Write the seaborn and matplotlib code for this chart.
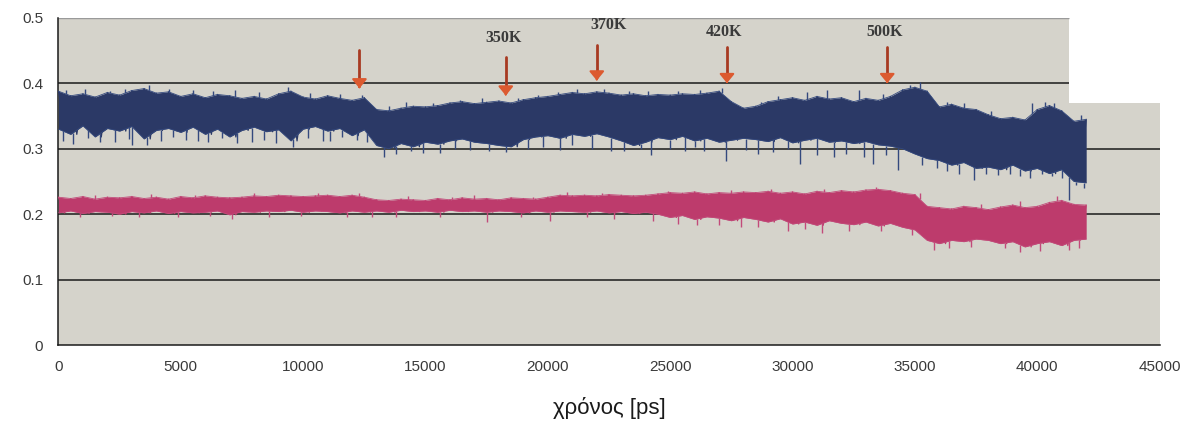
import numpy as np
import matplotlib
matplotlib.use("Agg")
import matplotlib.pyplot as plt
import seaborn as sns

# time axis of the read-off envelopes (ps), one value every 500 ps
t = np.arange(0, 42001, 500)

# dark blue trace: top / bottom of the dense band
navy_hi = [.388, .381, .384, .379, .386, .382, .389, .392, .385, .387,
           .380, .384, .378, .383, .381, .377, .380, .376, .384, .388,
           .379, .376, .381, .377, .374, .378, .360, .358, .362, .365,
           .364, .366, .370, .372, .369, .371, .373, .370, .375, .378,
           .380, .383, .386, .384, .387, .385, .382, .384, .381, .383,
           .382, .384, .383, .385, .388, .372, .362, .365, .372, .375,
           .378, .374, .380, .376, .378, .372, .377, .374, .380, .390,
           .394, .388, .364, .368, .362, .360, .352, .346, .348, .344,
           .360, .366, .358, .342, .345]
navy_lo = [.330, .322, .335, .318, .331, .327, .334, .315, .328, .331,
           .325, .333, .322, .330, .318, .328, .333, .326, .329, .312,
           .330, .334, .327, .331, .320, .329, .305, .300, .308, .303,
           .310, .307, .312, .315, .310, .308, .305, .303, .314, .318,
           .320, .316, .322, .319, .323, .318, .312, .305, .310, .317,
           .314, .319, .312, .316, .310, .313, .316, .314, .311, .317,
           .309, .313, .316, .310, .312, .308, .311, .306, .304, .300,
           .292, .285, .282, .275, .279, .270, .272, .268, .275, .266,
           .270, .262, .268, .250, .248]

# crimson trace
pink_hi = [.226, .224, .227, .223, .226, .225, .227, .224, .226, .223,
           .227, .225, .228, .226, .225, .226, .228, .227, .229, .228,
           .227, .228, .229, .227, .229, .226, .222, .221, .223, .222,
           .221, .224, .222, .225, .223, .224, .222, .225, .224, .223,
           .226, .229, .228, .229, .228, .230, .229, .228, .229, .231,
           .233, .232, .234, .231, .233, .232, .234, .233, .235, .232,
           .234, .231, .235, .233, .236, .234, .237, .238, .236, .232,
           .230, .212, .210, .208, .212, .210, .207, .211, .214, .210,
           .212, .218, .221, .215, .214]
pink_lo = [.202, .205, .201, .204, .203, .200, .204, .202, .205, .201,
           .204, .202, .203, .205, .199, .204, .203, .205, .204, .206,
           .203, .205, .204, .202, .205, .203, .205, .203, .206, .204,
           .205, .203, .206, .204, .205, .203, .205, .204, .202, .205,
           .203, .205, .204, .203, .205, .202, .204, .201, .203, .200,
           .195, .198, .192, .196, .194, .190, .195, .192, .188, .193,
           .185, .188, .183, .190, .186, .184, .188, .182, .186, .180,
           .176, .160, .155, .160, .158, .162, .160, .155, .158, .150,
           .155, .158, .152, .160, .162]

# isolated spikes (time, value)
navy_spike_t = [200, 600, 1200, 1700, 2300, 2900, 3000, 3600, 4200, 4700,
                5200, 5700, 6100, 6700, 7300, 7900, 8400, 8900, 9600, 10200,
                10800, 11100, 11600, 12200, 12600, 13300, 13800, 14400, 14900,
                15600, 16200, 16800, 17600, 18300, 19200, 19800, 20500, 21000,
                21800, 22600, 23100, 23800, 24200, 25000, 25600, 26000, 26400,
                27300, 28100, 28600, 29200, 29800, 30300, 31000, 31700, 32200,
                32900, 33300, 33800, 34300, 35300, 35900, 36300, 36800, 37400,
                37900, 38400, 38900, 39300, 39700, 40200, 40600, 41000, 41300,
                41600, 41900,
                300, 1100, 2100, 2700, 3700, 4500, 5500, 6300, 7200, 8200,
                9400, 10300, 11500, 12400, 13500, 14200, 15300, 16400, 17300,
                18800, 19600, 20400, 21200, 22300, 23300, 24100, 25300, 26200,
                27100, 28700, 29400, 30600, 31400, 32700, 33700, 34800, 35200,
                36300, 37000, 38100, 39800, 40300, 40700, 41800]
navy_spike_v = [.312, .308, .316, .310, .310, .315, .306, .305, .312, .318,
                .314, .312, .310, .316, .309, .310, .313, .309, .303, .316,
                .312, .312, .318, .314, .310, .288, .292, .296, .293,
                .294, .300, .298, .297, .295, .300, .302, .298, .305,
                .300, .297, .296, .299, .290, .300, .296, .302, .296,
                .282, .298, .292, .295, .300, .276, .290, .287, .292,
                .288, .276, .290, .268, .275, .270, .266, .262, .252,
                .262, .260, .262, .258, .255, .262, .258, .255, .222,
                .245, .240,
                .390, .392, .389, .391, .398, .392, .390, .388, .390, .386,
                .394, .385, .384, .382, .366, .372, .370, .375, .378,
                .378, .382, .387, .392, .392, .389, .388, .389, .390,
                .393, .372, .380, .386, .390, .390, .384, .398, .402,
                .372, .370, .358, .370, .372, .370, .352]
pink_spike_t = [900, 2200, 3300, 4900, 6200, 7100, 8600, 9900, 11800, 12800,
                13800, 15600, 17500, 18900, 20100, 21600, 22700, 24300, 25300,
                26100, 27000, 27900, 28600, 29800, 30500, 31200, 32300, 33600,
                34900, 35800, 36400, 37300, 38700, 39300, 40100, 41300, 41700,
                1500, 3800, 5600, 8000, 10600, 12300, 14300, 16100, 17000,
                19400, 20800, 22200, 24900, 27500, 29100, 31300, 33400, 35200,
                37700, 39300, 40800]
pink_spike_v = [.196, .197, .195, .196, .197, .192, .196, .197, .196, .196,
                .195, .196, .188, .195, .190, .196, .192, .190, .185,
                .184, .183, .180, .180, .175, .177, .172, .175, .174,
                .168, .145, .148, .150, .148, .142, .143, .146, .148,
                .230, .231, .230, .232, .232, .232, .228, .227, .229,
                .227, .234, .233, .236, .237, .238, .238, .242, .233,
                .216, .220, .228]

# temperature markers
arrow_t = [12300, 18280, 22000, 27320, 33870]
arrow_top = [.451, .440, .459, .456, .456]
arrow_tip = [.388, .377, .400, .396, .396]
label_t = [18200, 22500, 27200, 33750]
label_y = [.469, .489, .479, .479]
label_txt = ["350K", "370K", "420K", "500K"]

sns.set_style("white")
plt.rcParams['font.family'] = ['Liberation Sans', 'DejaVu Sans']

fig = plt.figure(figsize=(11.93, 4.26), dpi=100)
ax = fig.add_axes([0.049, 0.19, 0.923, 0.768])

bg = '#d5d3cb'
ax.fill_between([0, 41300], 0, 0.5, color=bg, lw=0, zorder=0)
ax.fill_between([41300, 45000], 0, 0.37, color=bg, lw=0, zorder=0)

# gridlines as in the scanned original
ax.hlines([0.1, 0.2, 0.3], 0, 45000, color='#1a1a1a', lw=1.1, zorder=1)
ax.hlines([0.4], 0, 41300, color='#1a1a1a', lw=1.1, zorder=1)
ax.hlines([0.5], 0, 41300, color='#9a9a9a', lw=1.0, zorder=1)

navy = '#2b3966'
pink = '#bd3b6c'


def draw_trace(hi, lo, sp_t, sp_v, fill, edge):
    hi = np.array(hi)
    lo = np.array(lo)
    ax.fill_between(t, lo, hi, color=fill, lw=0, zorder=3)
    # zig-zag between the read top and bottom values for a noisy look
    zz_t = np.ravel(np.column_stack([t, t + 250]))[:-1]
    zz_v = np.ravel(np.column_stack([hi, lo]))[:-1]
    sns.lineplot(x=zz_t, y=zz_v, color=fill, lw=0.9, ax=ax, zorder=3, sort=False)
    sns.lineplot(x=t, y=hi, color=edge, lw=0.6, ax=ax, zorder=3)
    sns.lineplot(x=t, y=lo, color=edge, lw=0.6, ax=ax, zorder=3)
    sp_t = np.array(sp_t)
    sp_v = np.array(sp_v)
    h = np.interp(sp_t, t, hi)
    l = np.interp(sp_t, t, lo)
    base = np.where(sp_v > (h + l) / 2, h, l)
    ax.vlines(sp_t, base, sp_v, color=edge, lw=1.0, zorder=3)


draw_trace(navy_hi, navy_lo, navy_spike_t, navy_spike_v, navy, '#34497e')
draw_trace(pink_hi, pink_lo, pink_spike_t, pink_spike_v, pink, '#c24a7a')

for x0, y0, y1 in zip(arrow_t, arrow_top, arrow_tip):
    ax.plot([x0, x0], [y0, y1 + 0.01], color='#a83a22', lw=2.0, zorder=5)
    ax.annotate("", xy=(x0, y1), xytext=(x0, y1 + 0.012),
                arrowprops=dict(arrowstyle="-|>,head_length=0.55,head_width=0.45",
                                color='#dc5a30', lw=1.5), zorder=5)
for x0, y0, s in zip(label_t, label_y, label_txt):
    ax.text(x0, y0, s, ha='center', va='center', fontsize=11.5,
            family=['Liberation Serif', 'DejaVu Serif'], weight='bold',
            color='#3a3a3a', zorder=5)

ax.set_xlim(0, 45000)
ax.set_ylim(0, 0.5)
ax.set_xticks(range(0, 45001, 5000))
ax.set_yticks([0, 0.1, 0.2, 0.3, 0.4, 0.5])
ax.set_yticklabels(["0", "0.1", "0.2", "0.3", "0.4", "0.5"])
ax.tick_params(axis='both', direction='out', length=5, width=1, color='#1a1a1a',
               labelsize=11, labelcolor='#3a3a3a', pad=6)
ax.set_xlabel("χρόνος [ps]", fontsize=16, color='#1a1a1a', labelpad=16)
ax.set_ylabel("")

for side in ['top', 'right']:
    ax.spines[side].set_visible(False)
for side in ['left', 'bottom']:
    ax.spines[side].set_color('#1a1a1a')
    ax.spines[side].set_linewidth(1.1)
ax.set_facecolor('white')

fig.savefig("out.png", dpi=100)
